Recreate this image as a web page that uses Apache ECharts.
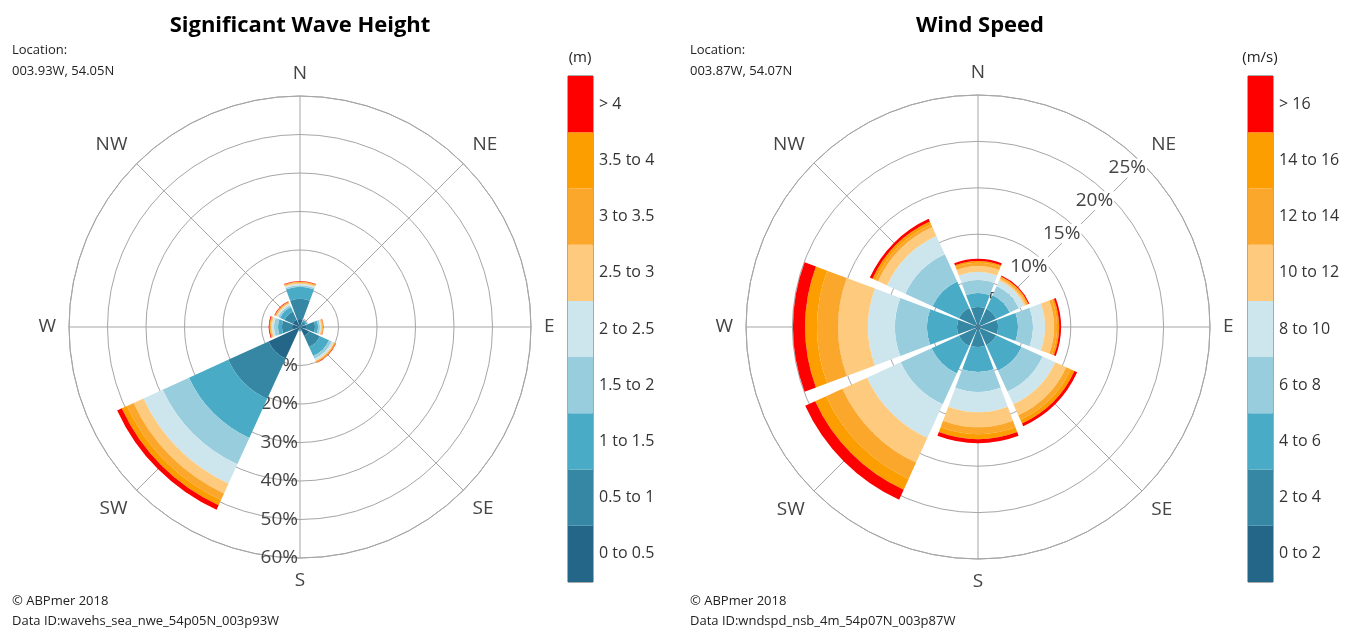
<!DOCTYPE html>
<html>
<head>
<meta charset="utf-8">
<title>Wave and wind roses</title>
<script src="https://cdn.jsdelivr.net/npm/echarts@6/dist/echarts.min.js"></script>
<style>
  html, body { margin: 0; padding: 0; background: #fff; }
  #chart { width: 1353px; height: 628px; }
</style>
</head>
<body>
<div id="chart"></div>
<script>
// compass directions, clockwise from north
const directions = ["N", "NE", "E", "SE", "S", "SW", "W", "NW"];

// class labels (bottom to top of the colour bars)
const waveBins = ["0 to 0.5", "0.5 to 1", "1 to 1.5", "1.5 to 2", "2 to 2.5", "2.5 to 3", "3 to 3.5", "3.5 to 4", "> 4"];
const windBins = ["0 to 2", "2 to 4", "4 to 6", "6 to 8", "8 to 10", "10 to 12", "12 to 14", "14 to 16", "> 16"];
const binColors = ["#236687", "#3587a3", "#49abc5", "#98cddd", "#cde6ed", "#fecb7e", "#fba72c", "#fc9e00", "#ff0000"];

// significant wave height, % occurrence per class, one array per direction
const waveN  = [2.1, 5.2, 3.1, 0.4, 0.4, 0.26, 0.18, 0.16, 0.15];
const waveNE = [0.6, 1.0, 0.5, 0.1, 0.05, 0.03, 0.02, 0.01, 0.01];
const waveE  = [1.56, 2.34, 0.78, 0.51, 0.26, 0.26, 0.19, 0.13, 0.07];
const waveSE = [2.6, 3.11, 2.6, 0.78, 0.52, 0.26, 0.18, 0.16, 0.1];
const waveS  = [0.6, 0.4, 0.1, 0.05, 0.02, 0.01, 0.01, 0.01, 0.0];
const waveSW = [9.0, 11.5, 11.2, 7.5, 5.5, 2.8, 1.9, 1.5, 1.3];
const waveW  = [2.08, 2.6, 1.03, 1.04, 0.52, 0.26, 0.21, 0.18, 0.21];
const waveNW = [2.08, 2.34, 1.29, 0.52, 0.39, 0.26, 0.18, 0.16, 0.13];

// wind speed, % occurrence per class, one array per direction
const windN  = [0.32, 1.84, 1.5, 1.4, 0.87, 0.64, 0.33, 0.21, 0.22];
const windNE = [0.32, 1.84, 1.61, 1.08, 0.65, 0.21, 0.16, 0.11, 0.11];
const windE  = [0.32, 1.84, 2.15, 1.62, 1.29, 0.97, 0.32, 0.22, 0.21];
const windSE = [0.32, 1.84, 3.01, 2.48, 1.51, 1.29, 0.54, 0.43, 0.33];
const windS  = [0.32, 1.84, 2.69, 2.15, 2.16, 1.62, 0.75, 0.54, 0.43];
const windSW = [0.32, 1.94, 3.24, 3.66, 3.99, 2.91, 1.94, 1.29, 1.18];
const windW  = [0.32, 1.94, 3.24, 3.44, 2.91, 3.24, 2.26, 1.29, 1.3];
const windNW = [0.32, 1.94, 3.13, 3.23, 2.16, 1.07, 0.33, 0.32, 0.32];

const waveRows = [waveN, waveNE, waveE, waveSE, waveS, waveSW, waveW, waveNW];
const windRows = [windN, windNE, windE, windSE, windS, windSW, windW, windNW];

// label sequences for the drawn axes: the % labels sit on the first direction
const leftOrder = ["S", "SW", "W", "NW", "N", "NE", "E", "SE"];
const rightOrder = ["NE", "E", "SE", "S", "SW", "W", "NW", "N"];

const font = "'Open Sans', 'DejaVu Sans', sans-serif";
const gridLine = "#a6a6a6";
const textGrey = "#444";

const leftCenter = [300, 327];
const rightCenter = [978, 327];

// visible polar frame: full rings, 8 spokes and the compass labels
function frameAngle(idx, order, start) {
  return {
    polarIndex: idx,
    type: "value",
    min: 0,
    max: 360,
    interval: 45,
    startAngle: start,
    clockwise: true,
    axisLine: { lineStyle: { color: gridLine, width: 1 } },
    axisTick: { show: false },
    axisLabel: {
      fontSize: 19, color: textGrey, margin: 13, fontFamily: font,
      formatter: (v) => (v < 360 ? order[Math.round(v / 45)] : "")
    },
    splitLine: { show: true, lineStyle: { color: gridLine, width: 1 } }
  };
}

// hidden category axis the bars hang on, bands centred on each direction
function barAngle(idx) {
  return {
    polarIndex: idx,
    type: "category",
    data: directions,
    startAngle: 112.5,
    clockwise: true,
    show: false
  };
}

function roseSeries(idx, rows, bins, stack) {
  return bins.map((b, i) => ({
    name: b,
    type: "bar",
    coordinateSystem: "polar",
    polarIndex: idx,
    stack: stack,
    barCategoryGap: "9%",
    itemStyle: { color: binColors[i] },
    data: rows.map((r) => r[i]),
    silent: true
  }));
}

function colorBar(idx, bins) {
  return {
    type: "bar",
    xAxisIndex: idx,
    yAxisIndex: idx,
    barWidth: "100%",
    silent: true,
    data: bins.map((b, i) => ({ value: 1, itemStyle: { color: binColors[i] } }))
  };
}

const chart = echarts.init(document.getElementById("chart"));

const locText = { fontSize: 13, fontWeight: "normal", color: "#222", fontFamily: font, lineHeight: 21 };
const footText = { fontSize: 13, fontWeight: "normal", color: "#222", fontFamily: font, lineHeight: 20 };
const unitText = { fontSize: 15, fontWeight: "normal", color: "#222", fontFamily: font };
const titleText = { fontSize: 22, fontWeight: "bold", color: "#000", fontFamily: font };

chart.setOption({
  backgroundColor: "#fff",
  animation: false,
  title: [
    { text: "Significant Wave Height", left: 300, top: 15, padding: 0, textAlign: "center", textStyle: titleText },
    { text: "Wind Speed", left: 980, top: 15, padding: 0, textAlign: "center", textStyle: titleText },
    { text: "Location:\n003.93W, 54.05N", left: 12, top: 40, padding: 0, textStyle: locText },
    { text: "Location:\n003.87W, 54.07N", left: 690, top: 40, padding: 0, textStyle: locText },
    { text: "© ABPmer 2018\nData ID:wavehs_sea_nwe_54p05N_003p93W", left: 12, top: 591, padding: 0, textStyle: footText },
    { text: "© ABPmer 2018\nData ID:wndspd_nsb_4m_54p07N_003p87W", left: 690, top: 591, padding: 0, textStyle: footText },
    { text: "(m)", left: 580, top: 50, padding: 0, textAlign: "center", textStyle: unitText },
    { text: "(m/s)", left: 1260, top: 50, padding: 0, textAlign: "center", textStyle: unitText }
  ],
  polar: [
    { center: leftCenter, radius: 231 },
    { center: rightCenter, radius: 232 },
    { center: leftCenter, radius: 231 },
    { center: rightCenter, radius: 232 }
  ],
  angleAxis: [
    frameAngle(0, leftOrder, 270),
    frameAngle(1, rightOrder, 45),
    barAngle(2),
    barAngle(3)
  ],
  radiusAxis: [
    {
      polarIndex: 0, type: "value", min: 0, max: 60, interval: 10,
      axisLine: { show: false }, axisTick: { show: false },
      axisLabel: { formatter: (v) => (v ? v + "%" : ""), fontSize: 19, color: textGrey, fontFamily: font,
        margin: -2, align: "right", padding: [12, 0, 0, 0] },
      splitLine: { lineStyle: { color: gridLine, width: 1 } }
    },
    {
      polarIndex: 1, type: "value", min: 0, max: 25, interval: 5,
      axisLine: { show: false }, axisTick: { show: false },
      axisLabel: { formatter: (v) => (v ? v + "%" : ""), fontSize: 19, color: textGrey, fontFamily: font,
        margin: -7, backgroundColor: "#fff", padding: [0, 1] },
      splitLine: { lineStyle: { color: gridLine, width: 1 } }
    },
    { polarIndex: 2, type: "value", min: 0, max: 60, show: false },
    { polarIndex: 3, type: "value", min: 0, max: 25, show: false }
  ],
  grid: [
    { left: 568, top: 76, width: 25, height: 506, show: true, borderColor: "#555", borderWidth: 1 },
    { left: 1248, top: 76, width: 25, height: 506, show: true, borderColor: "#555", borderWidth: 1 }
  ],
  xAxis: [
    { gridIndex: 0, type: "value", min: 0, max: 1, show: false },
    { gridIndex: 1, type: "value", min: 0, max: 1, show: false }
  ],
  yAxis: [
    { gridIndex: 0, type: "category", data: waveBins, position: "right",
      axisLine: { show: false }, axisTick: { show: false },
      axisLabel: { fontSize: 16, color: "#333", margin: 6, fontFamily: font } },
    { gridIndex: 1, type: "category", data: windBins, position: "right",
      axisLine: { show: false }, axisTick: { show: false },
      axisLabel: { fontSize: 16, color: "#333", margin: 6, fontFamily: font } }
  ],
  series: [
    ...roseSeries(2, waveRows, waveBins, "wave"),
    ...roseSeries(3, windRows, windBins, "wind"),
    colorBar(0, waveBins),
    colorBar(1, windBins)
  ]
});
</script>
</body>
</html>
